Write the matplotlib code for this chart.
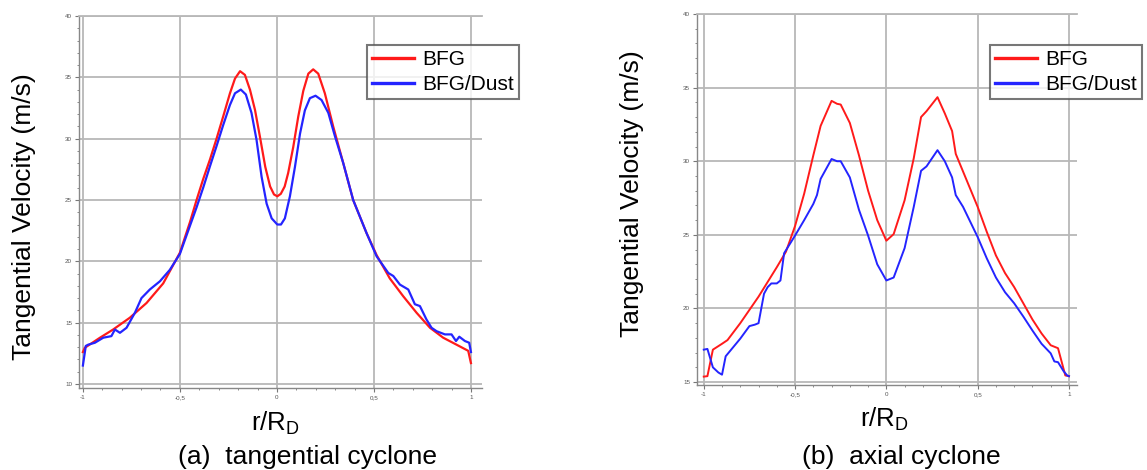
import matplotlib.pyplot as plt
from matplotlib.ticker import MultipleLocator, FuncFormatter

plt.rcParams['font.family'] = ['Liberation Sans', 'DejaVu Sans']

# (a) tangential cyclone
xa_bfg = [-1.0, -0.99, -0.912, -0.844, -0.758, -0.672, -0.586, -0.5,
          -0.448, -0.414, -0.38, -0.345, -0.311, -0.277, -0.242, -0.216, -0.19, -0.165,
          -0.139, -0.113, -0.088, -0.06, -0.035, -0.015, 0.002, 0.02, 0.04, 0.058,
          0.084, 0.11, 0.136, 0.162, 0.187, 0.213, 0.247, 0.29, 0.342, 0.393,
          0.462, 0.514, 0.582, 0.651, 0.72, 0.789, 0.857, 0.926, 0.986, 1.0]
ya_bfg = [12.6, 12.95, 13.77, 14.44, 15.4, 16.6, 18.2, 20.7,
          23.2, 25.0, 26.7, 28.3, 30.0, 31.8, 33.7, 34.9, 35.5, 35.2,
          34.0, 32.35, 30.2, 27.7, 26.1, 25.45, 25.3, 25.5, 26.1, 27.2,
          29.3, 31.8, 33.9, 35.3, 35.65, 35.3, 33.7, 31.0, 28.0, 25.0,
          22.3, 20.5, 18.6, 17.15, 15.8, 14.58, 13.77, 13.2, 12.7, 11.7]
xa_dust = [-1.0, -0.985, -0.973, -0.938, -0.895, -0.853, -0.835, -0.809, -0.775, -0.732,
           -0.698, -0.655, -0.603, -0.552, -0.5, -0.448, -0.414, -0.38, -0.345, -0.311,
           -0.277, -0.242, -0.216, -0.186, -0.16, -0.131, -0.105, -0.079, -0.053, -0.027,
           0.002, 0.021, 0.041, 0.067, 0.093, 0.119, 0.144, 0.17, 0.199, 0.23,
           0.265, 0.299, 0.342, 0.393, 0.462, 0.514, 0.574, 0.6, 0.634, 0.677,
           0.711, 0.737, 0.771, 0.797, 0.823, 0.866, 0.9, 0.923, 0.94, 0.969,
           0.991, 1.0]
ya_dust = [11.5, 13.1, 13.2, 13.36, 13.77, 13.9, 14.44, 14.17, 14.58, 15.8,
           17.0, 17.7, 18.37, 19.3, 20.6, 22.9, 24.4, 26.0, 27.75, 29.4,
           31.1, 32.75, 33.7, 34.0, 33.6, 32.1, 29.9, 26.9, 24.7, 23.5,
           23.0, 23.0, 23.5, 25.3, 27.7, 30.4, 32.3, 33.3, 33.5, 33.15,
           32.1, 30.2, 28.0, 25.0, 22.3, 20.4, 19.05, 18.8, 18.1, 17.7,
           16.5, 16.35, 15.25, 14.58, 14.3, 14.04, 14.04, 13.5, 13.85, 13.5,
           13.36, 12.6]

# (b) axial cyclone
xb_bfg = [-1.0, -0.98, -0.95, -0.9, -0.87, -0.8, -0.7, -0.6, -0.55, -0.5, -0.45, -0.4,
          -0.36, -0.3, -0.27, -0.25, -0.2, -0.15, -0.1, -0.05, 0.0, 0.04, 0.1, 0.15, 0.19,
          0.22, 0.28, 0.32, 0.36, 0.38, 0.42, 0.5, 0.55, 0.6, 0.65, 0.7, 0.75, 0.8, 0.85,
          0.9, 0.94, 0.98, 1.0]
yb_bfg = [15.37, 15.4, 17.2, 17.6, 17.85, 19.0, 20.8, 22.8, 23.85, 25.6, 27.8, 30.4,
          32.4, 34.1, 33.9, 33.85, 32.6, 30.4, 28.0, 26.0, 24.6, 25.05, 27.35, 30.2, 33.0,
          33.4, 34.35, 33.25, 32.05, 30.5, 29.3, 26.9, 25.2, 23.6, 22.4, 21.45, 20.35, 19.25,
          18.3, 17.5, 17.3, 15.45, 15.4]
xb_dust = [-1.0, -0.98, -0.95, -0.92, -0.9, -0.88, -0.8, -0.75, -0.72, -0.7, -0.67, -0.65,
           -0.63, -0.6, -0.58, -0.56, -0.5, -0.45, -0.4, -0.38, -0.36, -0.3, -0.27, -0.25,
           -0.2, -0.15, -0.1, -0.05, 0.0, 0.04, 0.1, 0.15, 0.19, 0.22, 0.28, 0.32, 0.36,
           0.38, 0.42, 0.5, 0.55, 0.6, 0.65, 0.7, 0.75, 0.8, 0.85, 0.9, 0.92, 0.94, 0.97,
           0.99, 1.0]
yb_dust = [17.2, 17.25, 16.0, 15.65, 15.5, 16.75, 17.95, 18.8, 18.9, 19.0, 21.0, 21.45,
           21.7, 21.7, 21.9, 23.75, 24.95, 26.0, 27.1, 27.7, 28.8, 30.15, 30.0, 30.0,
           28.9, 26.7, 24.95, 23.0, 21.9, 22.1, 24.1, 26.9, 29.35, 29.65, 30.75, 30.0, 28.9,
           27.7, 26.9, 24.85, 23.4, 22.1, 21.1, 20.35, 19.45, 18.5, 17.6, 16.95, 16.4, 16.35,
           15.75, 15.45, 15.4]

W, H = 1147, 470
fig = plt.figure(figsize=(W / 100, H / 100), dpi=100)


def px_axes(left, top, right, bottom):
    return fig.add_axes([left / W, 1 - bottom / H, (right - left) / W, (bottom - top) / H])


def comma(v, pos):
    return ('%g' % v).replace('.', ',')


def style(ax, xlim, ylim):
    ax.set_xlim(*xlim)
    ax.set_ylim(*ylim)
    ax.xaxis.set_major_locator(MultipleLocator(0.5))
    ax.xaxis.set_minor_locator(MultipleLocator(0.1))
    ax.yaxis.set_major_locator(MultipleLocator(5))
    ax.yaxis.set_minor_locator(MultipleLocator(1))
    ax.xaxis.set_major_formatter(FuncFormatter(comma))
    ax.grid(True, which='major', color='#b8b8b8', linewidth=1.3)
    ax.tick_params(which='both', labelsize=4.5, labelcolor='#555555', color='#777777',
                   direction='out', pad=2)
    ax.tick_params(which='major', length=3)
    ax.tick_params(which='minor', length=1.5)
    ax.spines['right'].set_visible(False)
    ax.spines['top'].set_color('#b8b8b8')
    ax.spines['top'].set_linewidth(1.3)
    for s in ('left', 'bottom'):
        ax.spines[s].set_color('#888888')
        ax.spines[s].set_linewidth(1.0)


ax1 = px_axes(79, 16, 482, 388)
ax1.plot(xa_bfg, ya_bfg, color='#ff1a1a', lw=1.6, label='BFG', solid_joinstyle='round')
ax1.plot(xa_dust, ya_dust, color='#2424ff', lw=1.6, label='BFG/Dust', solid_joinstyle='round')
style(ax1, (-1.02, 1.057), (9.67, 40))

ax2 = px_axes(697, 14, 1077, 385)
ax2.plot(xb_bfg, yb_bfg, color='#ff1a1a', lw=1.4, label='BFG')
ax2.plot(xb_dust, yb_dust, color='#2424ff', lw=1.4, label='BFG/Dust')
style(ax2, (-1.037, 1.044), (14.8, 40))

for ax, lx in ((ax1, 367), (ax2, 990)):
    leg = ax.legend(loc='upper left', bbox_to_anchor=(lx / W, 1 - 45 / H),
                    bbox_transform=fig.transFigure, fontsize=15, frameon=True,
                    fancybox=False, borderaxespad=0, handlelength=2.0,
                    handletextpad=0.4, borderpad=0.25, labelspacing=0.28)
    leg.get_frame().set_edgecolor('#555555')
    leg.get_frame().set_linewidth(1.5)
    for ln in leg.get_lines():
        ln.set_linewidth(2.4)

fig.text(24 / W, 1 - 217 / H, 'Tangential Velocity (m/s)', rotation=90, fontsize=19,
         ha='center', va='center')
fig.text(632 / W, 1 - 194 / H, 'Tangential Velocity (m/s)', rotation=90, fontsize=19,
         ha='center', va='center')
fig.text(275 / W, 1 - 423 / H, r'r/R$_\mathregular{D}$', fontsize=18.5, ha='center', va='center')
fig.text(884 / W, 1 - 419 / H, r'r/R$_\mathregular{D}$', fontsize=18.5, ha='center', va='center')
fig.text(308 / W, 1 - 457 / H, '(a)  tangential cyclone', fontsize=19, ha='center', va='center')
fig.text(901 / W, 1 - 457 / H, '(b)  axial cyclone', fontsize=19, ha='center', va='center')

fig.savefig('out.png', dpi=100)
